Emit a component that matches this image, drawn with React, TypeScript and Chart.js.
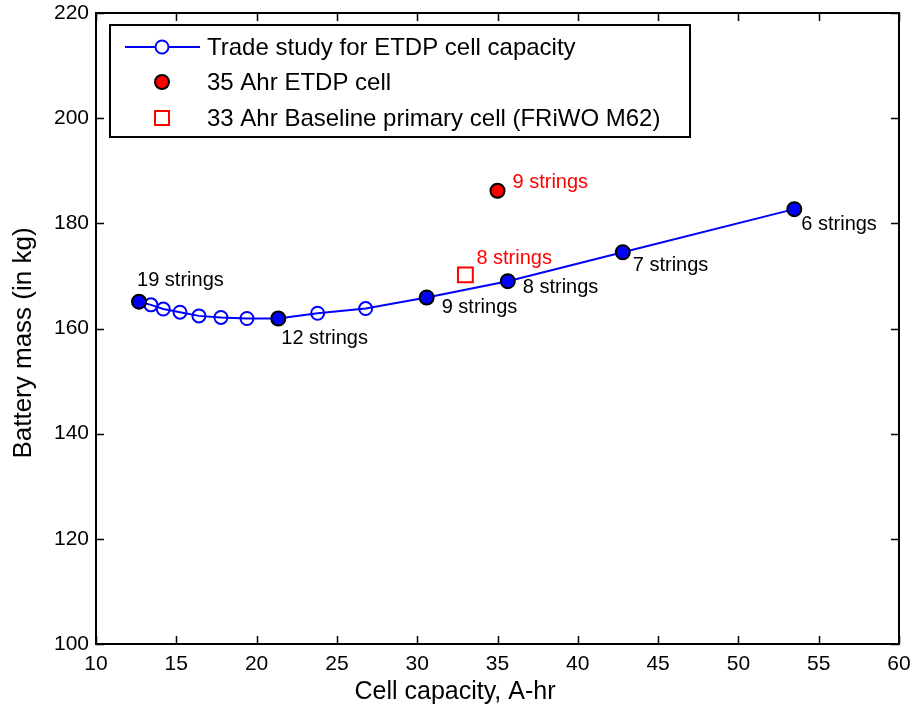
import React, { useEffect, useRef } from 'react';
import { Chart, registerables } from 'chart.js';

Chart.register(...registerables);

// ---------- data ----------
const capacity = [12.68, 13.42, 14.19, 15.23, 16.41, 17.78, 19.4, 21.35, 23.8, 26.79, 30.59, 35.64, 42.8, 53.48];
const batteryMass = [165.1, 164.5, 163.7, 163.1, 162.4, 162.1, 161.9, 161.9, 162.9, 163.8, 165.9, 169.0, 174.5, 182.7];
const stringCounts = [19, 18, 17, 16, 15, 14, 13, 12, 11, 10, 9, 8, 7, 6];
const labeledStrings = [19, 12, 9, 8, 7, 6];

const etdpCapacity = [35.0];
const etdpMass = [186.2];
const etdpStrings = [9];

const baselineCapacity = [33.0];
const baselineMass = [170.2];
const baselineStrings = [8];

const xTicks = [10, 15, 20, 25, 30, 35, 40, 45, 50, 55, 60];
const yTicks = [100, 120, 140, 160, 180, 200, 220];

const seriesNames = [
  'Trade study for ETDP cell capacity',
  '35 Ahr ETDP cell',
  '33 Ahr Baseline primary cell (FRiWO M62)',
];
const xTitle = 'Cell capacity, A-hr';
const yTitle = 'Battery mass (in kg)';

// ---------- styles ----------
const FONT = '"Liberation Sans", Arial, Helvetica, sans-serif';
const BLUE = '#0000ff';
const RED = '#ff0000';
const labelOffsets: Record<number, [number, number]> = {
  19: [-2, -21],
  12: [3, 20],
  9: [15, 10],
  8: [15, 6],
  7: [10, 13],
  6: [7, 15],
};
const etdpLabelOffset: [number, number] = [15, -8];
const baselineLabelOffset: [number, number] = [11, -16];

const tradePoints = capacity.map((c, i) => ({ x: c, y: batteryMass[i] }));
const labeledPoints = capacity
  .map((c, i) => ({ x: c, y: batteryMass[i], n: stringCounts[i] }))
  .filter((p) => labeledStrings.includes(p.n));
const etdpPoints = etdpCapacity.map((c, i) => ({ x: c, y: etdpMass[i] }));
const baselinePoints = baselineCapacity.map((c, i) => ({ x: c, y: baselineMass[i] }));

const overlayPlugin = {
  id: 'overlay',
  afterDraw(chart: any) {
    const { ctx, chartArea: a, scales } = chart;
    const xs = scales.x;
    const ys = scales.y;
    ctx.save();

    // annotations
    ctx.font = `20px ${FONT}`;
    ctx.textAlign = 'left';
    ctx.textBaseline = 'middle';
    ctx.fillStyle = '#000';
    labeledPoints.forEach((p) => {
      const off = labelOffsets[p.n] || [8, 0];
      ctx.fillText(`${p.n} strings`, xs.getPixelForValue(p.x) + off[0], ys.getPixelForValue(p.y) + off[1]);
    });
    ctx.fillStyle = RED;
    etdpPoints.forEach((p, i) => {
      ctx.fillText(`${etdpStrings[i]} strings`, xs.getPixelForValue(p.x) + etdpLabelOffset[0], ys.getPixelForValue(p.y) + etdpLabelOffset[1]);
    });
    baselinePoints.forEach((p, i) => {
      ctx.fillText(`${baselineStrings[i]} strings`, xs.getPixelForValue(p.x) + baselineLabelOffset[0], ys.getPixelForValue(p.y) + baselineLabelOffset[1]);
    });

    // frame
    ctx.strokeStyle = '#000';
    ctx.lineWidth = 2;
    ctx.strokeRect(a.left, a.top, a.right - a.left, a.bottom - a.top);
    ctx.lineWidth = 1.5;
    ctx.beginPath();
    const TL = 8;
    xTicks.forEach((v) => {
      const px = Math.round(xs.getPixelForValue(v)) + 0.5;
      ctx.moveTo(px, a.bottom);
      ctx.lineTo(px, a.bottom - TL);
      ctx.moveTo(px, a.top);
      ctx.lineTo(px, a.top + TL);
    });
    yTicks.forEach((v) => {
      const py = Math.round(ys.getPixelForValue(v)) + 0.5;
      ctx.moveTo(a.left, py);
      ctx.lineTo(a.left + TL, py);
      ctx.moveTo(a.right, py);
      ctx.lineTo(a.right - TL, py);
    });
    ctx.stroke();

    // legend
    const lx = a.left + 14;
    const ly = a.top + 12;
    const lw = 580;
    const lh = 112;
    ctx.fillStyle = '#fff';
    ctx.fillRect(lx, ly, lw, lh);
    ctx.strokeStyle = '#000';
    ctx.lineWidth = 2;
    ctx.strokeRect(lx, ly, lw, lh);
    const symX = lx + 52;
    const rows = [ly + 22, ly + 57, ly + 93];
    // row 1
    ctx.strokeStyle = BLUE;
    ctx.lineWidth = 2;
    ctx.beginPath();
    ctx.moveTo(lx + 15, rows[0]);
    ctx.lineTo(lx + 90, rows[0]);
    ctx.stroke();
    ctx.beginPath();
    ctx.arc(symX, rows[0], 6.5, 0, Math.PI * 2);
    ctx.fillStyle = '#fff';
    ctx.fill();
    ctx.stroke();
    // row 2
    ctx.beginPath();
    ctx.arc(symX, rows[1], 7, 0, Math.PI * 2);
    ctx.fillStyle = RED;
    ctx.fill();
    ctx.strokeStyle = '#000';
    ctx.stroke();
    // row 3
    ctx.strokeStyle = RED;
    ctx.strokeRect(symX - 7, rows[2] - 7, 14, 14);
    ctx.fillStyle = '#000';
    ctx.font = `24px ${FONT}`;
    ctx.textAlign = 'left';
    ctx.textBaseline = 'middle';
    seriesNames.forEach((t, i) => ctx.fillText(t, lx + 97, rows[i] + 1));

    // axis titles
    ctx.font = `25px ${FONT}`;
    ctx.textAlign = 'center';
    ctx.textBaseline = 'middle';
    ctx.fillText(xTitle, 455, 692);
    ctx.save();
    ctx.translate(24, 343);
    ctx.rotate(-Math.PI / 2);
    ctx.font = `26px ${FONT}`;
    ctx.fillText(yTitle, 0, 0);
    ctx.restore();

    ctx.restore();
  },
};

export default function App() {
  const ref = useRef<HTMLCanvasElement | null>(null);
  useEffect(() => {
    if (!ref.current) return;
    const chart = new Chart(ref.current, {
      type: 'scatter',
      data: {
        datasets: [
          {
            label: 'labeled',
            data: labeledPoints,
            showLine: false,
            pointRadius: 7,
            pointBackgroundColor: BLUE,
            pointBorderColor: '#000',
            pointBorderWidth: 2,
            order: 1,
          },
          {
            label: seriesNames[1],
            data: etdpPoints,
            showLine: false,
            pointRadius: 7,
            pointBackgroundColor: RED,
            pointBorderColor: '#000',
            pointBorderWidth: 2,
            order: 1,
          },
          {
            label: seriesNames[2],
            data: baselinePoints,
            showLine: false,
            pointStyle: 'rect',
            pointRadius: 10.5,
            pointBackgroundColor: 'rgba(0,0,0,0)',
            pointBorderColor: RED,
            pointBorderWidth: 2,
            order: 1,
          },
          {
            label: seriesNames[0],
            data: tradePoints,
            showLine: true,
            borderColor: BLUE,
            borderWidth: 2,
            pointRadius: 6.5,
            pointBackgroundColor: 'rgba(0,0,0,0)',
            pointBorderColor: BLUE,
            pointBorderWidth: 2,
            order: 2,
          },
        ],
      },
      options: {
        animation: false,
        responsive: false,
        events: [],
        layout: { padding: { top: 13, right: 15, left: 0, bottom: 0 } },
        plugins: { legend: { display: false }, tooltip: { enabled: false } },
        scales: {
          x: {
            type: 'linear',
            min: xTicks[0],
            max: xTicks[xTicks.length - 1],
            grid: { display: false, drawTicks: false, tickLength: 0 },
            border: { display: false },
            ticks: {
              stepSize: 5,
              padding: 8,
              maxRotation: 0,
              color: '#000',
              font: { family: FONT, size: 21 },
            },
            afterFit: (s: any) => {
              s.height = 64;
              s.paddingLeft = 0;
              s.paddingRight = 0;
            },
          },
          y: {
            type: 'linear',
            min: yTicks[0],
            max: yTicks[yTicks.length - 1],
            grid: { display: false, drawTicks: false, tickLength: 0 },
            border: { display: false },
            ticks: {
              stepSize: 20,
              padding: 7,
              color: '#000',
              font: { family: FONT, size: 21 },
            },
            afterFit: (s: any) => {
              s.width = 96;
              s.paddingTop = 0;
              s.paddingBottom = 0;
            },
          },
        },
      },
      plugins: [overlayPlugin],
    });
    return () => chart.destroy();
  }, []);
  return (
    <div style={{ position: 'absolute', left: 0, top: 0, width: 914, height: 708, background: '#fff' }}>
      <canvas ref={ref} width={914} height={708} />
    </div>
  );
}
